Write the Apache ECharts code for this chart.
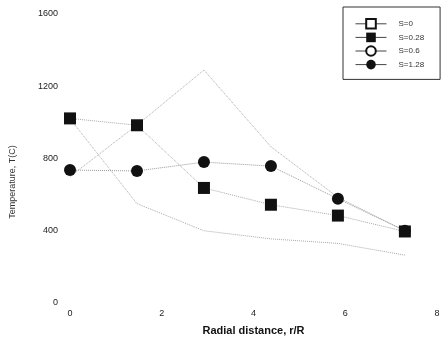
<!DOCTYPE html>
<html>
<head>
<meta charset="utf-8">
<script src="https://cdn.jsdelivr.net/npm/echarts@6/dist/echarts.min.js"></script>
<style>
  html, body { margin: 0; padding: 0; background: #fff; }
  #chart { width: 445px; height: 341px; }
</style>
</head>
<body>
<div id="chart"></div>
<script>
// radial distance r/R
var radial = [0, 1.46, 2.92, 4.38, 5.84, 7.3];

// temperature T(C) for each S
var tempS0 = [1020, 550, 400, 355, 330, 265];
var tempS028 = [1022, 984, 637, 544, 484, 396];
var tempS06 = [700, 985, 1290, 865, 585, 400];
var tempS128 = [736, 731, 780, 758, 577, 400];

var xTicks = [0, 2, 4, 6, 8];
var yTicks = [0, 400, 800, 1200, 1600];

function pairs (ys) {
  return radial.map(function (x, i) { return [x, ys[i]]; });
}

function drawChart () {
  var chartDom = document.getElementById('chart');
  var myChart = echarts.init(chartDom);
  var option;

  var font = 'Liberation Sans, Arial, sans-serif';

  option = {
    backgroundColor: '#fff',
    animation: false,
    textStyle: { fontFamily: font },
    grid: { left: 70, right: 8, top: 14, bottom: 36 },
    legend: {
      orient: 'vertical',
      left: 343,
      top: 7,
      padding: [11, 16, 10, 12],
      itemWidth: 31,
      itemHeight: 12,
      itemGap: 3,
      borderColor: '#333',
      borderWidth: 1,
      borderRadius: 0,
      lineStyle: { color: '#444', type: 'solid', width: 1 },
      textStyle: { fontSize: 8, color: '#333', padding: [0, 0, 0, 7] },
      data: ['S=0', 'S=0.28', 'S=0.6', 'S=1.28']
    },
    xAxis: {
      type: 'value',
      min: xTicks[0],
      max: xTicks[xTicks.length - 1],
      interval: 2,
      name: 'Radial distance, r/R',
      nameLocation: 'middle',
      nameGap: 22,
      nameTextStyle: { fontSize: 11, fontWeight: 'bold', color: '#111' },
      axisLine: { show: false },
      axisTick: { show: false },
      splitLine: { show: false },
      axisLabel: { fontSize: 9, color: '#222', margin: 6, formatter: function (v) { return String(v); } }
    },
    yAxis: {
      type: 'value',
      min: yTicks[0],
      max: yTicks[yTicks.length - 1],
      interval: 400,
      axisLine: { show: false },
      axisTick: { show: false },
      splitLine: { show: false },
      axisLabel: { fontSize: 9, color: '#222', margin: 12, formatter: function (v) { return String(v); } }
    },
    graphic: [
      {
        type: 'text',
        x: 13,
        y: 182,
        rotation: Math.PI / 2,
        style: {
          text: 'Temperature, T(C)',
          fontSize: 9,
          fontFamily: font,
          fill: '#333',
          textAlign: 'center',
          textVerticalAlign: 'middle'
        }
      }
    ],
    series: [
      {
        name: 'S=0',
        type: 'line',
        data: pairs(tempS0),
        symbol: 'emptyRect',
        showSymbol: false,
        color: '#111',
        lineStyle: { color: '#aaa', type: 'dotted', width: 1 }
      },
      {
        name: 'S=0.28',
        type: 'line',
        data: pairs(tempS028),
        symbol: 'rect',
        symbolSize: 12,
        color: '#111',
        lineStyle: { color: '#aaa', type: 'dotted', width: 1 }
      },
      {
        name: 'S=0.6',
        type: 'line',
        data: pairs(tempS06),
        symbol: 'emptyCircle',
        showSymbol: false,
        color: '#111',
        lineStyle: { color: '#aaa', type: 'dotted', width: 1 }
      },
      {
        name: 'S=1.28',
        type: 'line',
        data: pairs(tempS128),
        symbol: 'circle',
        symbolSize: 12,
        color: '#111',
        lineStyle: { color: '#999', type: 'dotted', width: 1 }
      }
    ]
  };

  option && myChart.setOption(option);
}

drawChart()
</script>
</body>
</html>
